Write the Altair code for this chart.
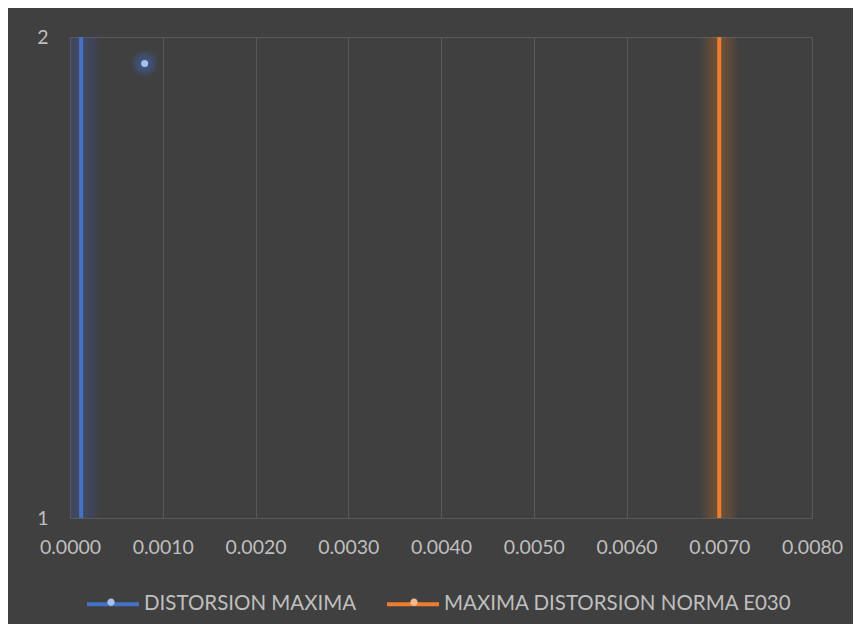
import altair as alt
import pandas as pd

# ---- data ----
series_names = ["DISTORSION MAXIMA", "MAXIMA DISTORSION NORMA E030"]
line_series = ["DISTORSION MAXIMA", "DISTORSION MAXIMA",
               "MAXIMA DISTORSION NORMA E030", "MAXIMA DISTORSION NORMA E030"]
line_x = [0.00012, 0.00012, 0.0070, 0.0070]
line_y = [1, 2, 1, 2]
line_order = [0, 1, 0, 1]

point_series = ["DISTORSION MAXIMA"]
point_x = [0.000805]
point_y = [1.945]

x_ticks = [0.000, 0.001, 0.002, 0.003, 0.004, 0.005, 0.006, 0.007, 0.008]
y_ticks = [1, 2]

line_colors = ["#4472C4", "#ED7D31"]
dot_colors = ["#A6C0EA", "#F6B98E"]

BG = "#404040"
GRID = "#595959"
TXT = "#BFBFBF"
FONT = "Lato"
FS = 19.5
LFS = 20.5

# dot legend keys: same names with a trailing space so the two legends stay separate
dot_keys = [n + " " for n in series_names]

lines_df = pd.DataFrame({"series": line_series, "x": line_x, "y": line_y, "o": line_order})
point_df = pd.DataFrame({"dot_series": [s + " " for s in point_series], "x": point_x, "y": point_y})

x_enc = alt.X("x:Q", scale=alt.Scale(domain=[0, 0.008], nice=False, zero=False),
              axis=alt.Axis(values=x_ticks, format=".4f", title=None, grid=True,
                            gridColor=GRID, domainColor=GRID, ticks=False,
                            labelFont=FONT, labelFontSize=FS, labelColor=TXT,
                            labelPadding=20, labelFlush=False, labelOverlap=False))
y_enc = alt.Y("y:Q", scale=alt.Scale(domain=[1, 2], nice=False, zero=False),
              axis=alt.Axis(values=y_ticks, format="d", title=None, grid=True,
                            gridColor=GRID, domainColor=GRID, ticks=False,
                            labelFont=FONT, labelFontSize=FS, labelColor=TXT,
                            labelPadding=22))

base_lines = alt.Chart(lines_df)

glows = []
for name, col in zip(series_names, line_colors):
    for w in [38, 34, 30, 26, 22, 18, 14, 10]:
        glows.append(
            base_lines.transform_filter(alt.datum.series == name)
            .mark_line(strokeWidth=w, opacity=0.04, clip=True, strokeCap="butt", color=col)
            .encode(x=x_enc, y=y_enc, order="o:Q")
        )

legend_common = dict(title=None, orient="none", legendX=15, legendY=539,
                     direction="horizontal", columns=2, symbolSize=2704,
                     labelFont=FONT, labelFontSize=LFS, labelColor=TXT, labelOffset=3,
                     labelLimit=600)

main_lines = base_lines.mark_line(strokeWidth=4, strokeCap="butt").encode(
    x=x_enc, y=y_enc, order="o:Q",
    color=alt.Color("series:N", scale=alt.Scale(domain=series_names, range=line_colors),
                    legend=alt.Legend(symbolType="stroke", symbolStrokeWidth=4,
                                      columnPadding=22, **legend_common)),
)

base_pt = alt.Chart(point_df)
pt_glows = []
for s in [700, 560, 430, 320, 220, 140]:
    pt_glows.append(base_pt.mark_circle(size=s, opacity=0.09, color="#4472C4").encode(x=x_enc, y=y_enc))

dot_path = "M-0.14,0A0.14,0.14 0 1,0 0.14,0A0.14,0.14 0 1,0 -0.14,0Z"
point = base_pt.mark_circle(size=50, opacity=1).encode(
    x=x_enc, y=y_enc,
    fill=alt.Fill("dot_series:N", scale=alt.Scale(domain=dot_keys, range=dot_colors),
                  legend=alt.Legend(symbolType=dot_path, symbolStrokeWidth=0,
                                    symbolOpacity=1, labelExpr="''",
                                    columnPadding=248, **legend_common)),
)

chart = alt.layer(*glows, main_lines, *pt_glows, point).properties(
    width=742, height=481,
    autosize=alt.AutoSizeParams(type="none"),
    padding={"left": 62, "top": 29, "right": 41, "bottom": 106},
    background=BG,
).configure_view(strokeWidth=0)

chart.save("out.html", embed_options={"renderer": "svg", "actions": False})
